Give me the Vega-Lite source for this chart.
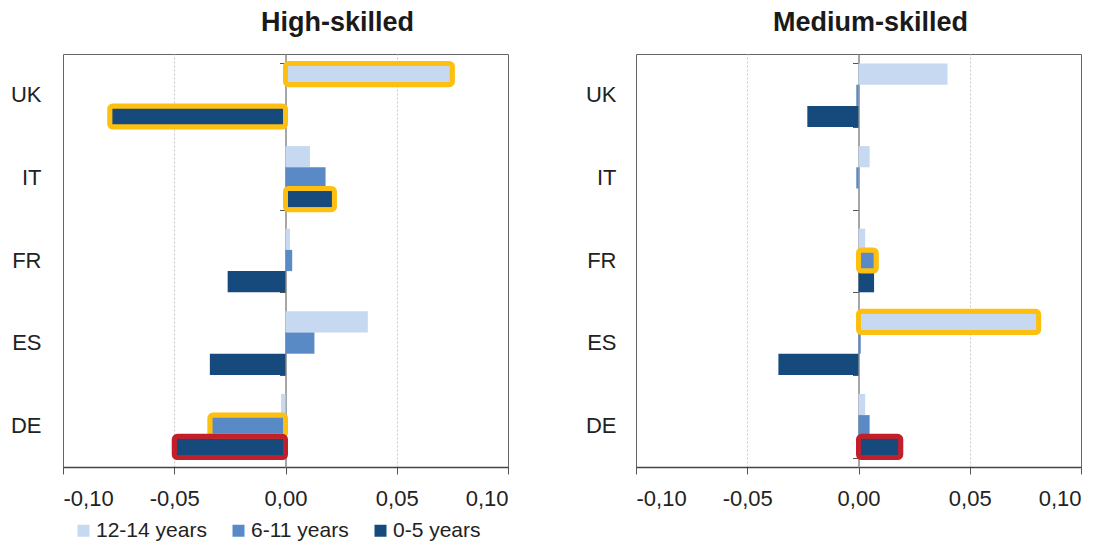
{
  "$schema": "https://vega.github.io/schema/vega-lite/v6.json",
  "padding": {"left": 0, "top": 8, "right": 0, "bottom": 0},
  "config": {
    "font": "Liberation Sans",
    "view": {"stroke": "#666", "strokeWidth": 1},
    "title": {"fontSize": 27, "fontWeight": "bold", "color": "#1a1a1a", "anchor": "middle", "offset": 17}
  },
  "datasets": {
    "d": [
      {"panel": "High-skilled", "country": "UK", "age": "12-14 years", "value": 0.075, "hl": "yellow"},
      {"panel": "High-skilled", "country": "UK", "age": "6-11 years", "value": 0.0, "hl": "none"},
      {"panel": "High-skilled", "country": "UK", "age": "0-5 years", "value": -0.079, "hl": "yellow"},
      {"panel": "High-skilled", "country": "IT", "age": "12-14 years", "value": 0.011, "hl": "none"},
      {"panel": "High-skilled", "country": "IT", "age": "6-11 years", "value": 0.018, "hl": "none"},
      {"panel": "High-skilled", "country": "IT", "age": "0-5 years", "value": 0.022, "hl": "yellow"},
      {"panel": "High-skilled", "country": "FR", "age": "12-14 years", "value": 0.002, "hl": "none"},
      {"panel": "High-skilled", "country": "FR", "age": "6-11 years", "value": 0.003, "hl": "none"},
      {"panel": "High-skilled", "country": "FR", "age": "0-5 years", "value": -0.026, "hl": "none"},
      {"panel": "High-skilled", "country": "ES", "age": "12-14 years", "value": 0.037, "hl": "none"},
      {"panel": "High-skilled", "country": "ES", "age": "6-11 years", "value": 0.013, "hl": "none"},
      {"panel": "High-skilled", "country": "ES", "age": "0-5 years", "value": -0.034, "hl": "none"},
      {"panel": "High-skilled", "country": "DE", "age": "12-14 years", "value": -0.002, "hl": "none"},
      {"panel": "High-skilled", "country": "DE", "age": "6-11 years", "value": -0.034, "hl": "yellow"},
      {"panel": "High-skilled", "country": "DE", "age": "0-5 years", "value": -0.050, "hl": "red"},
      {"panel": "Medium-skilled", "country": "UK", "age": "12-14 years", "value": 0.040, "hl": "none"},
      {"panel": "Medium-skilled", "country": "UK", "age": "6-11 years", "value": -0.001, "hl": "none"},
      {"panel": "Medium-skilled", "country": "UK", "age": "0-5 years", "value": -0.023, "hl": "none"},
      {"panel": "Medium-skilled", "country": "IT", "age": "12-14 years", "value": 0.005, "hl": "none"},
      {"panel": "Medium-skilled", "country": "IT", "age": "6-11 years", "value": -0.001, "hl": "none"},
      {"panel": "Medium-skilled", "country": "IT", "age": "0-5 years", "value": 0.0, "hl": "none"},
      {"panel": "Medium-skilled", "country": "FR", "age": "12-14 years", "value": 0.003, "hl": "none"},
      {"panel": "Medium-skilled", "country": "FR", "age": "6-11 years", "value": 0.008, "hl": "yellow"},
      {"panel": "Medium-skilled", "country": "FR", "age": "0-5 years", "value": 0.007, "hl": "none"},
      {"panel": "Medium-skilled", "country": "ES", "age": "12-14 years", "value": 0.081, "hl": "yellow"},
      {"panel": "Medium-skilled", "country": "ES", "age": "6-11 years", "value": 0.001, "hl": "none"},
      {"panel": "Medium-skilled", "country": "ES", "age": "0-5 years", "value": -0.036, "hl": "none"},
      {"panel": "Medium-skilled", "country": "DE", "age": "12-14 years", "value": 0.003, "hl": "none"},
      {"panel": "Medium-skilled", "country": "DE", "age": "6-11 years", "value": 0.005, "hl": "none"},
      {"panel": "Medium-skilled", "country": "DE", "age": "0-5 years", "value": 0.019, "hl": "red"}
    ]
  },
  "data": {"name": "d"},
  "bounds": "flush",
  "spacing": 128,
  "resolve": {"scale": {"x": "independent", "y": "independent"}},
  "hconcat": [
    {
      "width": 445,
      "height": 413,
      "title": {"text": "High-skilled", "dx": 52},
      "transform": [{"filter": "datum.panel === 'High-skilled'"}],
      "layer": [
        {
          "mark": {"type": "bar"},
          "encoding": {
            "y": {"field": "country", "type": "nominal", "sort": ["UK", "IT", "FR", "ES", "DE"],
                  "scale": {"paddingInner": 0.23, "paddingOuter": 0.115},
                  "axis": {"title": null, "ticks": false, "domain": false, "labelPadding": 22, "minExtent": 62, "maxExtent": 62, "labelFontSize": 22, "labelColor": "#222"}},
            "yOffset": {"field": "age", "type": "nominal", "sort": ["12-14 years", "6-11 years", "0-5 years"],
                        "scale": {"domain": ["12-14 years", "6-11 years", "0-5 years"], "paddingInner": 0, "paddingOuter": 0}},
            "x": {"field": "value", "type": "quantitative", "scale": {"domain": [-0.1, 0.1], "nice": false, "zero": false},
                  "axis": {"title": null, "values": [-0.1, -0.05, 0, 0.05, 0.1],
                           "labelExpr": "replace(replace(format(datum.value, '.2f'), '.', ','), '\u2212', '-')",
                           "labelFontSize": 22, "labelColor": "#222", "tickSize": 7, "tickColor": "#555",
                           "domainColor": "#444", "domainWidth": 1.5, "grid": true, "gridColor": "#c8c8c8", "gridDash": [2, 2],
                           "gridOpacity": {"condition": {"test": "abs(datum.value) > 0.07 || datum.value === 0", "value": 0}, "value": 1},
                           "labelPadding": 14}},
            "color": {"field": "age", "type": "nominal",
                      "scale": {"domain": ["12-14 years", "6-11 years", "0-5 years"], "range": ["#C6D9F0", "#5A8AC6", "#174A7C"]},
                      "legend": {"orient": "none", "legendX": 10, "legendY": 466, "direction": "horizontal", "title": null,
                                 "symbolType": "square", "symbolSize": 144, "symbolStrokeWidth": 0, "labelFontSize": 21, "labelColor": "#222",
                                 "columnPadding": 21, "labelOffset": 2}}
          }
        },
        {
          "transform": [{"filter": "datum.hl === 'yellow'"}],
          "mark": {"type": "bar", "fill": "transparent", "stroke": "#FDC010", "strokeWidth": 5, "cornerRadius": 3},
          "encoding": {
            "y": {"field": "country", "type": "nominal", "sort": ["UK", "IT", "FR", "ES", "DE"], "axis": null},
            "yOffset": {"field": "age", "type": "nominal", "sort": ["12-14 years", "6-11 years", "0-5 years"]},
            "x": {"field": "value", "type": "quantitative"}
          }
        },
        {
          "transform": [{"filter": "datum.hl === 'red'"}],
          "mark": {"type": "bar", "fill": "transparent", "stroke": "#C1202A", "strokeWidth": 5, "cornerRadius": 3},
          "encoding": {
            "y": {"field": "country", "type": "nominal", "sort": ["UK", "IT", "FR", "ES", "DE"], "axis": null},
            "yOffset": {"field": "age", "type": "nominal", "sort": ["12-14 years", "6-11 years", "0-5 years"]},
            "x": {"field": "value", "type": "quantitative"}
          }
        },
        {
          "mark": {"type": "point", "opacity": 0},
          "encoding": {
            "y": {"field": "country", "type": "nominal", "sort": ["UK", "IT", "FR", "ES", "DE"],
                  "axis": {"orient": "left", "offset": -222.5, "title": null, "labels": false, "ticks": true, "tickBand": "extent",
                           "tickSize": 6, "tickColor": "#555", "domain": true, "domainColor": "#888", "domainWidth": 1.5, "grid": false, "minExtent": 0, "maxExtent": 0}},
            "x": {"datum": 0, "type": "quantitative"}
          }
        }
      ],
      "resolve": {"axis": {"y": "independent"}}
    },
    {
      "width": 445,
      "height": 413,
      "title": {"text": "Medium-skilled", "dx": 12},
      "transform": [{"filter": "datum.panel === 'Medium-skilled'"}],
      "layer": [
        {
          "mark": {"type": "bar"},
          "encoding": {
            "y": {"field": "country", "type": "nominal", "sort": ["UK", "IT", "FR", "ES", "DE"],
                  "scale": {"paddingInner": 0.23, "paddingOuter": 0.115},
                  "axis": {"title": null, "ticks": false, "domain": false, "labelPadding": 20, "minExtent": 62, "maxExtent": 62, "labelFontSize": 22, "labelColor": "#222"}},
            "yOffset": {"field": "age", "type": "nominal", "sort": ["12-14 years", "6-11 years", "0-5 years"],
                        "scale": {"domain": ["12-14 years", "6-11 years", "0-5 years"], "paddingInner": 0, "paddingOuter": 0}},
            "x": {"field": "value", "type": "quantitative", "scale": {"domain": [-0.1, 0.1], "nice": false, "zero": false},
                  "axis": {"title": null, "values": [-0.1, -0.05, 0, 0.05, 0.1],
                           "labelExpr": "replace(replace(format(datum.value, '.2f'), '.', ','), '\u2212', '-')",
                           "labelFontSize": 22, "labelColor": "#222", "tickSize": 7, "tickColor": "#555",
                           "domainColor": "#444", "domainWidth": 1.5, "grid": true, "gridColor": "#c8c8c8", "gridDash": [2, 2],
                           "gridOpacity": {"condition": {"test": "abs(datum.value) > 0.07 || datum.value === 0", "value": 0}, "value": 1},
                           "labelPadding": 14}},
            "color": {"field": "age", "type": "nominal",
                      "scale": {"domain": ["12-14 years", "6-11 years", "0-5 years"], "range": ["#C6D9F0", "#5A8AC6", "#174A7C"]},
                      "legend": {"orient": "none", "legendX": 10, "legendY": 466, "direction": "horizontal", "title": null,
                                 "symbolType": "square", "symbolSize": 144, "symbolStrokeWidth": 0, "labelFontSize": 21, "labelColor": "#222",
                                 "columnPadding": 21, "labelOffset": 2}}
          }
        },
        {
          "transform": [{"filter": "datum.hl === 'yellow'"}],
          "mark": {"type": "bar", "fill": "transparent", "stroke": "#FDC010", "strokeWidth": 5, "cornerRadius": 3},
          "encoding": {
            "y": {"field": "country", "type": "nominal", "sort": ["UK", "IT", "FR", "ES", "DE"], "axis": null},
            "yOffset": {"field": "age", "type": "nominal", "sort": ["12-14 years", "6-11 years", "0-5 years"]},
            "x": {"field": "value", "type": "quantitative"}
          }
        },
        {
          "transform": [{"filter": "datum.hl === 'red'"}],
          "mark": {"type": "bar", "fill": "transparent", "stroke": "#C1202A", "strokeWidth": 5, "cornerRadius": 3},
          "encoding": {
            "y": {"field": "country", "type": "nominal", "sort": ["UK", "IT", "FR", "ES", "DE"], "axis": null},
            "yOffset": {"field": "age", "type": "nominal", "sort": ["12-14 years", "6-11 years", "0-5 years"]},
            "x": {"field": "value", "type": "quantitative"}
          }
        },
        {
          "mark": {"type": "point", "opacity": 0},
          "encoding": {
            "y": {"field": "country", "type": "nominal", "sort": ["UK", "IT", "FR", "ES", "DE"],
                  "axis": {"orient": "left", "offset": -222.5, "title": null, "labels": false, "ticks": true, "tickBand": "extent",
                           "tickSize": 6, "tickColor": "#555", "domain": true, "domainColor": "#888", "domainWidth": 1.5, "grid": false, "minExtent": 0, "maxExtent": 0}},
            "x": {"datum": 0, "type": "quantitative"}
          }
        }
      ],
      "resolve": {"axis": {"y": "independent"}}
    }
  ]
}
